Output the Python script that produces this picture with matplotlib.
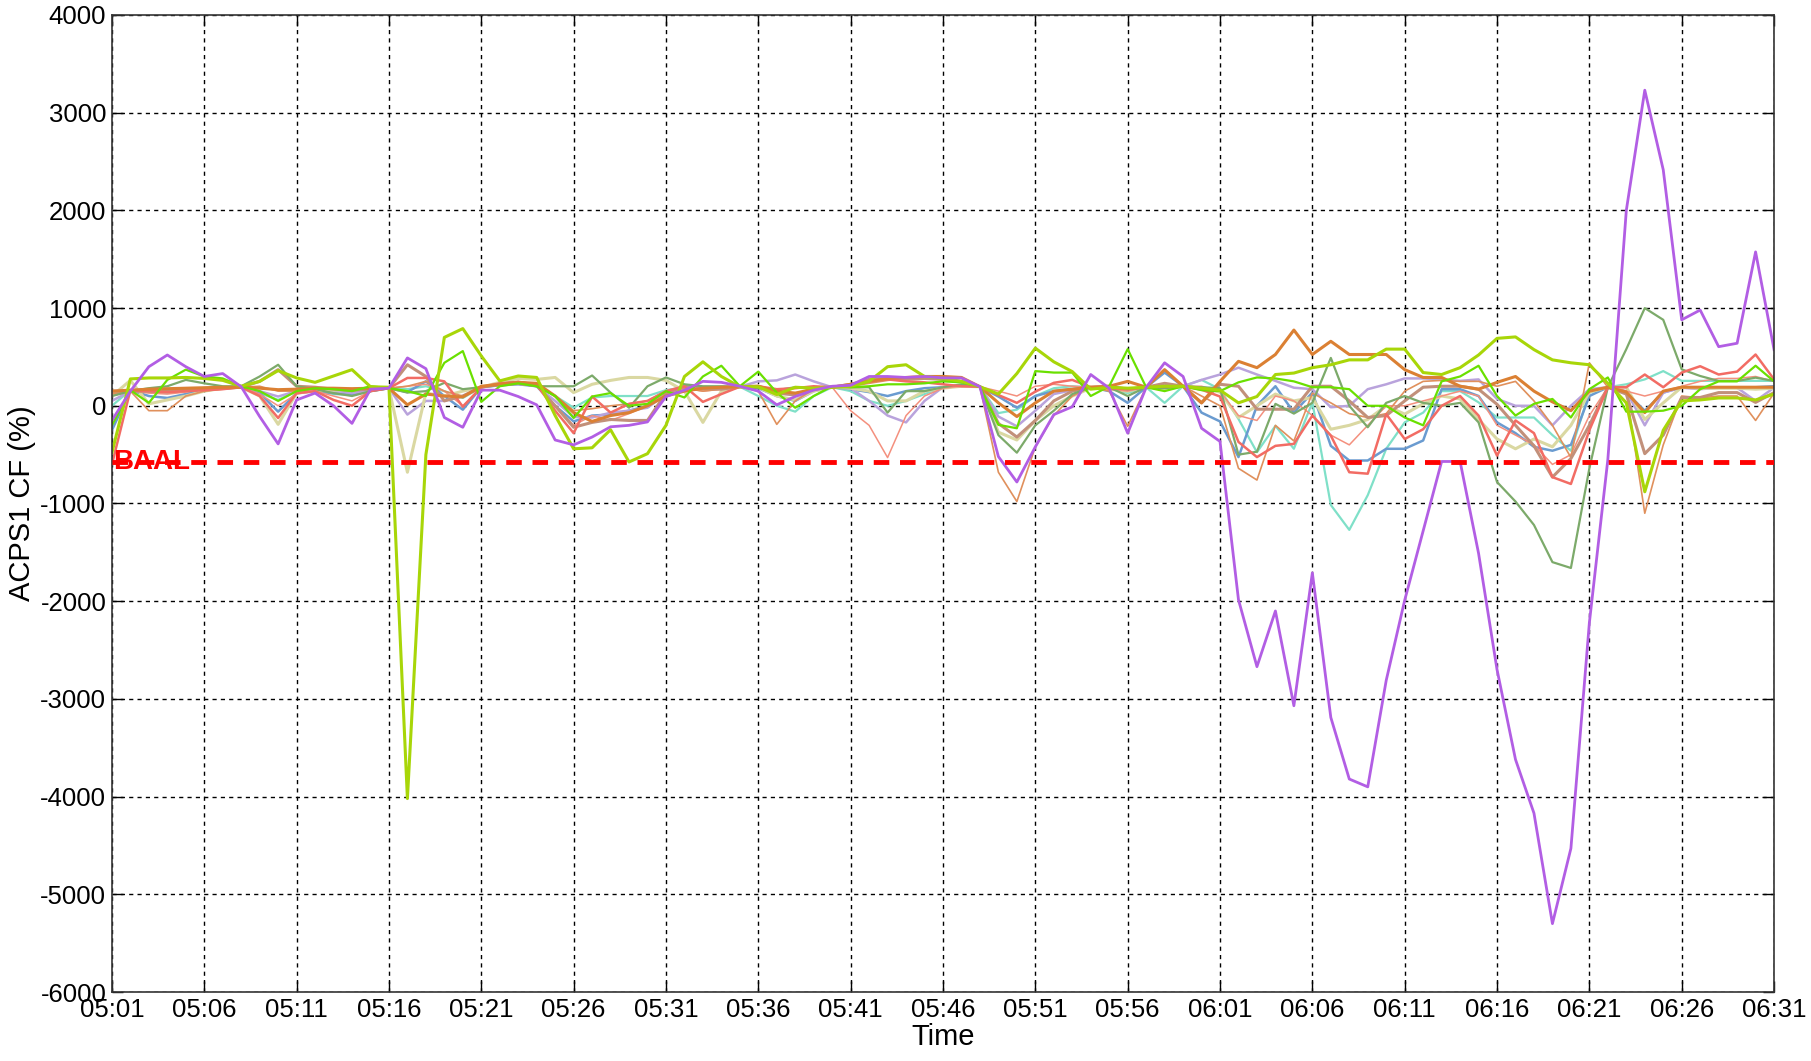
import numpy as np
import matplotlib
matplotlib.use("Agg")
from matplotlib import pyplot as plt

plt.rcParams['font.family'] = ['Liberation Sans', 'DejaVu Sans']
plt.rcParams['axes.unicode_minus'] = False

# one sample per minute, 05:01 .. 06:31
tick_labels = ['05:01', '05:06', '05:11', '05:16', '05:21', '05:26', '05:31',
               '05:36', '05:41', '05:46', '05:51', '05:56', '06:01', '06:06',
               '06:11', '06:16', '06:21', '06:26', '06:31']
baal = -580

purple = [-150, 150, 400, 520, 400, 300, 330, 195, -110, -390,
          60, 130, 0, -180, 170, 180, 490, 380, -120, -220,
          160, 160, 95, 10, -350, -400, -320, -215, -200, -165,
          95, 160, 250, 240, 200, 150, 10, 95, 160, 200,
          210, 300, 300, 290, 300, 285, 285, 195, -520, -780,
          -420, -90, -10, 320, 180, -280, 187, 440, 300, -230,
          -365, -1985, -2670, -2100, -3070, -1710, -3190, -3820, -3900, -2810,
          -1990, -1280, -570, -570, -1510, -2700, -3620, -4170, -5300, -4530,
          -2220, -550, 2000, 3230, 2415, 880, 980, 605, 640, 1575, 575]

yellowgreen = [-480, 275, 285, 285, 290, 280, 260, 200, 250, 360,
               285, 240, 305, 370, 195, 190, -4020, -500, 700, 790,
               510, 255, 305, 290, -100, -440, -430, -245, -575, -490,
               -200, 300, 450, 300, 195, 195, 115, 190, 180, 190,
               200, 250, 400, 420, 300, 280, 250, 195, 120, 330,
               590, 450, 350, 170, 190, 180, 190, 200, 200, 180,
               160, 30, 95, 320, 335, 390, 420, 470, 470, 580,
               580, 340, 320, 390, 520, 690, 705, 575, 470, 440,
               420, 230, 30, -880, -250, 50, 60, 80, 80, 60, 120]

green = [-200, 160, 30, 265, 370, 300, 280, 200, 150, 50,
         150, 180, 170, 150, 200, 180, 150, 100, 440, 560,
         40, 200, 230, 200, 100, -125, 95, 130, 0, 20,
         150, 85, 300, 410, 200, 350, 135, -20, 100, 200,
         190, 200, 220, 220, 230, 250, 240, 195, -195, -230,
         355, 340, 340, 100, 200, 580, 190, 150, 200, 160,
         150, 240, 290, 280, 250, 190, 190, 170, 0, 0,
         -120, -200, 250, 300, 410, 100, -100, 20, 70, -120,
         170, 290, -60, -60, -50, 0, 170, 250, 250, 410, 250]

olive = [100, 150, 180, 200, 265, 230, 200, 200, 300, 420,
         200, 170, 130, 100, 150, 180, 135, 150, 235, 170,
         190, 220, 230, 200, 200, 200, 310, 135, -20, 200,
         290, 220, 200, 200, 195, 180, 160, 190, 180, 190,
         190, 190, -70, 150, 150, 190, 220, 195, -300, -480,
         -200, -50, 120, 190, 190, 100, 190, 180, 200, 190,
         180, -500, -470, 20, -80, 30, 490, 0, -220, 30,
         100, 30, 0, 30, -170, -780, -980, -1220, -1600, -1660,
         -640, 190, 580, 1000, 880, 373, 305, 254, 254, 288, 254]

orange = [150, 160, 170, 175, 180, 185, 190, 190, 180, 165,
          170, 180, 180, 175, 180, 180, 10, 120, 100, 90,
          200, 220, 240, 230, 100, -70, -160, -100, -70, 0,
          100, 150, 180, 190, 195, 200, 150, 130, 170, 190,
          220, 250, 280, 290, 300, 300, 290, 195, 30, -110,
          30, 150, 170, 190, 200, 250, 190, 370, 200, 30,
          250, 455, 390, 525, 775, 525, 660, 525, 525, 525,
          370, 290, 290, 200, 170, 240, 300, 150, 40, -50,
          150, 190, 140, -70, 150, 190, 190, 190, 190, 190, 190]

salmon = [-600, 160, 150, 140, 150, 160, 170, 190, 100, -125,
          130, 150, 60, 0, 150, 180, 285, 285, 250, -10,
          190, 230, 240, 220, -50, -280, 95, -70, 20, 50,
          150, 200, 40, 120, 195, 200, 170, 180, 200, 190,
          200, 250, 270, 250, 240, 220, 200, 195, 110, 30,
          145, 235, 265, 190, 180, 170, 190, 200, 200, 165,
          95, -370, -525, -410, -390, -100, -305, -680, -695, -85,
          -340, -240, 0, 100, -100, -510, -150, -280, -730, -800,
          -250, 190, 190, 320, 190, 340, 405, 320, 350, 525, 270]

lightsalmon = [100, 150, 130, 120, 140, 170, 180, 190, 120, 0,
               120, 150, 100, 50, 150, 180, 200, 220, 150, 0,
               190, 210, 220, 200, 0, -200, -100, -150, -80, 0,
               130, 180, 150, 170, 195, 190, 150, 120, 180, 190,
               -50, -200, -530, -100, 100, 180, 200, 195, 150, 100,
               200, 220, 200, 190, 170, 150, 190, 180, 200, 200,
               150, -100, -150, 100, 50, -100, -300, -400, -200, 0,
               0, 50, 100, 150, 100, -200, -300, -400, -600, -500,
               -100, 190, 150, 100, 150, 200, 250, 280, 280, 300, 250]

brown = [150, 150, 150, 150, 160, 170, 180, 190, 250, 370,
         200, 190, 170, 160, 170, 180, 420, 300, 50, 100,
         190, 220, 240, 210, 0, -220, -170, -140, -150, -150,
         130, 200, 180, 170, 195, 200, 130, 110, 180, 190,
         220, 270, 280, 270, 280, 270, 250, 195, -180, -320,
         -150, 50, 150, 190, 200, 170, 190, 230, 200, 30,
         220, 200, -35, -35, -35, 200, 200, 50, -120, -100,
         50, 190, 200, 200, 170, 15, -200, -410, -730, -540,
         -200, 190, 120, -490, -300, 85, 85, 135, 135, 35, 135]

beige = [100, 260, 20, 60, 100, 150, 180, 190, 100, -190,
         130, 150, 160, 170, 180, 180, -680, 130, 100, 150,
         190, 240, 280, 270, 290, 135, 220, 260, 290, 290,
         260, 150, -170, 150, 195, 190, 100, 60, 150, 190,
         180, 150, 50, 50, 150, 180, 200, 195, -270, -350,
         -150, 0, 100, 180, 170, 150, 190, 170, 200, 180,
         140, -120, 0, 120, 50, 85, -240, -200, -140, 0,
         -85, 20, 100, 70, -140, -340, -440, -340, -420, -200,
         140, 190, 190, -140, 30, 190, 180, 180, 180, 170, 180]

lavender = [50, 150, 150, 160, 170, 180, 190, 190, 150, 95,
            150, 170, 150, 130, 160, 180, -90, 50, 50, 100,
            190, 220, 230, 200, 50, -115, -120, -70, -50, -20,
            120, 200, 180, 190, 195, 250, 260, 320, 250, 190,
            180, 50, -100, -170, 50, 190, 200, 195, -110, -210,
            -50, 120, 160, 190, 170, 160, 190, 200, 200, 265,
            320, 390, 320, 255, 185, 170, -15, 0, 170, 220,
            280, 280, 270, 255, 270, 70, 0, 0, -200, 0,
            170, 190, 150, -200, 135, 185, 170, 185, 185, 50, 185]

blue = [-250, 160, 100, 80, 120, 170, 180, 190, 130, -60,
        130, 150, 130, 120, 150, 180, 140, 250, 100, -40,
        190, 210, 220, 200, 0, -160, -100, -90, -50, 0,
        120, 180, 170, 180, 195, 180, 100, 50, 150, 190,
        170, 140, 100, 150, 180, 190, 200, 195, 95, -20,
        100, 150, 170, 190, 150, 30, 190, 340, 200, -70,
        -160, -525, 0, 200, -70, 135, -410, -560, -560, -440,
        -440, -355, 170, 170, 100, -170, -280, -420, -460, -400,
        100, 190, 135, -50, 135, 190, 190, 190, 190, 190, 200]

turquoise = [0, 160, 140, 130, 150, 170, 180, 190, 130, 60,
             150, 160, 120, 110, 150, 180, 170, 200, 150, 80,
             190, 210, 230, 210, 100, -20, 85, 100, 100, 100,
             160, 190, 170, 180, 195, 100, 0, -60, 100, 190,
             150, 50, 0, 50, 120, 190, 200, 195, -75, -40,
             100, 180, 200, 190, 180, 130, 190, 30, 200, 265,
             170, -135, -475, -205, -440, 35, -1015, -1270, -915, -440,
             -170, -70, 150, 150, 35, -120, -120, -120, -300, -460,
             135, 190, 220, 270, 355, 255, 255, 255, 255, 255, 255]

lightorange = [120, 150, -50, -50, 100, 150, 170, 190, 200, 150,
               150, 170, 170, 150, 180, 180, 200, 250, 150, 100,
               190, 230, 250, 220, 100, -50, -30, 0, 20, 50,
               150, 180, 150, 170, 195, 150, -190, 50, 170, 190,
               200, 230, 260, 280, 280, 270, 250, 195, -680, -980,
               -420, -100, 100, 190, 150, -210, 190, 370, 200, 100,
               0, -640, -760, -200, -360, 130, 30, -80, -120, -80,
               150, 250, 260, 250, 250, 200, 250, 50, -200, -530,
               440, 190, 150, -1100, -400, 100, 80, 100, 100, -150, 130]

series = [
    (turquoise, '#7FE0C8', 1.6),
    (blue, '#6A9BD0', 1.8),
    (lavender, '#B9A3DC', 1.8),
    (beige, '#DAD8A2', 2.2),
    (lightsalmon, '#F4907E', 1.1),
    (lightorange, '#E0905C', 1.2),
    (brown, '#C2907A', 2.2),
    (olive, '#7CAA6A', 1.6),
    (salmon, '#F26C64', 1.8),
    (orange, '#DB8033', 2.2),
    (green, '#6AE000', 1.6),
    (yellowgreen, '#A8D608', 2.2),
    (purple, '#B25EE4', 2.0),
]

fig = plt.figure(figsize=(18.11, 10.61), dpi=100)
ax = fig.add_axes([0.0618, 0.065, 0.9178, 0.9209])

for vals, col, lw in series:
    ax.plot(np.arange(len(vals)), vals, color=col, lw=lw)

ax.axhline(baal, color='#FF0000', lw=3.5, ls=(0, (3.2, 2.2)), zorder=5)
ax.text(0.05, baal, 'BAAL', color='#FF0000', fontsize=20, fontweight='bold',
        va='center', ha='left', zorder=6)

ax.set_xlim(0, 90)
ax.set_ylim(-6000, 4000)
ax.set_xticks(np.arange(0, 91, 5))
ax.set_xticklabels(tick_labels)
ax.set_yticks(np.arange(-6000, 4001, 1000))
ax.tick_params(direction='in', length=8, width=1, labelsize=18.5,
               top=True, right=True, pad=4)
ax.grid(True, color='black', ls=(0, (3, 3)), lw=1)
for sp in ax.spines.values():
    sp.set_color('#333333')
    sp.set_linewidth(1.2)

ax.set_xlabel('Time', fontsize=21, labelpad=1)
ax.set_ylabel('ACPS1 CF (%)', fontsize=21, labelpad=3)

fig.savefig('out.png', dpi=100)
